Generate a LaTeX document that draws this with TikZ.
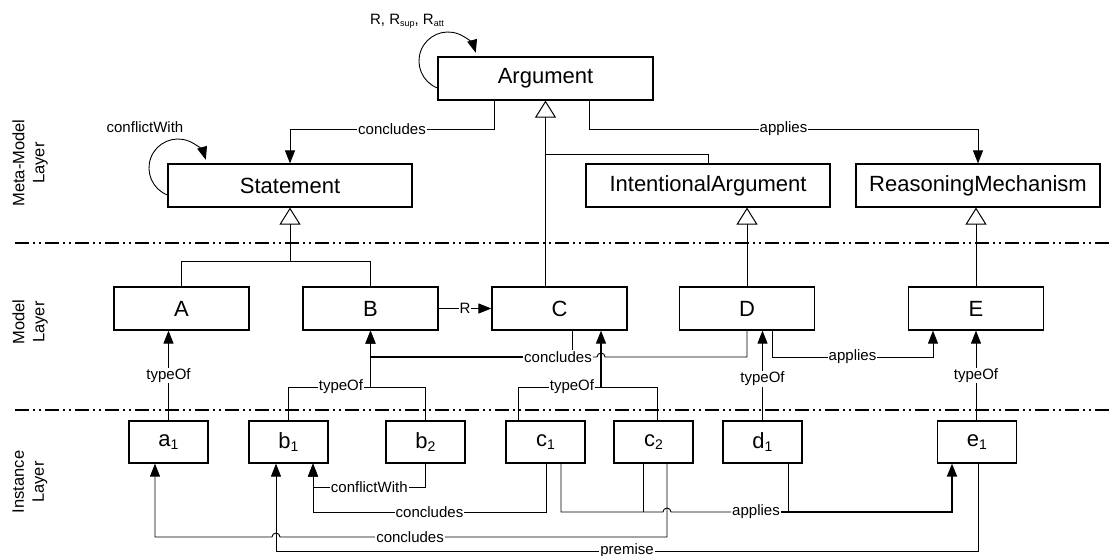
\documentclass[tikz,border=0pt]{standalone}
\usepackage{fontspec}
\setmainfont{Liberation Sans}
\usetikzlibrary{arrows.meta}
\newcommand\lowsub[1]{\raisebox{-0.3ex}{\fontsize{9}{9}\selectfont #1}}
\newcommand\boxsub[1]{\raisebox{-0.2ex}{\fontsize{14}{14}\selectfont #1}}

\begin{document}
\begin{tikzpicture}[x=1pt,y=-1pt,
  cls/.style={draw, line width=1.2pt, inner sep=0pt, font=\fontsize{22}{26}\selectfont},
  meta/.style={cls, minimum width=244pt, minimum height=43pt},
  mdl/.style={cls, minimum width=135pt, minimum height=43pt},
  inst/.style={cls, minimum width=79pt, minimum height=42pt},
  wire/.style={line width=0.9pt},
  rel/.style={wire, -{Triangle[length=13pt,width=10pt]}},
  gen/.style={wire, -{Triangle[open,length=17pt,width=21pt,line width=1pt]}},
  lbl/.style={fill=white, inner sep=1pt, font=\fontsize{15}{18}\selectfont},
  layer/.style={rotate=90, align=center, font=\fontsize{16.5}{20}\selectfont},
  sep/.style={line width=1.2pt, dash pattern=on 14pt off 4pt on 2pt off 4pt on 2pt off 4pt}
]
\useasboundingbox (0,0) rectangle (1109,556);

% layer separators and captions
\draw[sep] (15,243) -- (1109,243);
\draw[sep] (15,410) -- (1109,410);
\node[layer] (Lmeta)  at (30,163) {Meta-Model\\Layer};
\node[layer] (Lmodel) at (30,322) {Model\\Layer};
\node[layer] (Linst)  at (30,482) {Instance\\Layer};

% meta-model classes
\node[cls, minimum width=215pt, minimum height=43pt] (Arg) at (545.5,78.5) {Argument};
\node[meta] (Stmt) at (290,185.5) {Statement};
\node[meta] (IA)   at (708,185.5) {IntentionalArgument};
\node[meta] (RM)   at (978,185.5) {ReasoningMechanism};

% model classes
\node[mdl] (A) at (181.5,308.5) {A};
\node[mdl] (B) at (370.5,308.5) {B};
\node[mdl] (C) at (559.5,308.5) {C};
\node[mdl] (D) at (747,308.5)   {D};
\node[mdl] (E) at (976,308.5)   {E};

% instances
\node[inst] (a1) at (168.5,442) {a\boxsub{1}};
\node[inst] (b1) at (288.5,442) {b\boxsub{1}};
\node[inst] (b2) at (425.5,442) {b\boxsub{2}};
\node[inst] (c1) at (545.5,442) {c\boxsub{1}};
\node[inst] (c2) at (653.5,442) {c\boxsub{2}};
\node[inst] (d1) at (762.5,442) {d\boxsub{1}};
\node[inst] (e1) at (977,442)   {e\boxsub{1}};

% self relations
\draw[rel] ([yshift=-9.5pt]Arg.west) arc[start angle=248.6, end angle=16.5, radius=29pt];
\node[lbl, fill=none] (Rlab) at (407,21) {R, R\lowsub{sup}, R\lowsub{att}};
\draw[rel] ([yshift=-9.5pt]Stmt.west) arc[start angle=248.6, end angle=16.5, radius=29pt];
\node[lbl, fill=none] (cwlab) at (145,127) {conflictWith};

% meta-model associations
\draw[rel] (Arg.south -| 494,0) -- (494,129) -| node[lbl,pos=0.25]{concludes} (Stmt.north);
\draw[rel] (Arg.south -| 589,0) -- (589,129) -| node[lbl,pos=0.25]{applies} (RM.north);

% generalizations
\draw[gen] (C.north -| Arg.south) -- (Arg.south);
\draw[wire] (IA.north) |- (Arg.south |- 0,154);
\draw[wire] (A.north) |- (B.north |- 0,261) -- (B.north);
\draw[gen] (Stmt.south |- 0,261) -- (Stmt.south);
\draw[gen] (D.north) -- (D.north |- IA.south);
\draw[gen] (E.north) -- (E.north |- RM.south);

% model associations
\draw[rel] (B.east) -- node[lbl]{R} (C.west);
\node[lbl] (lc) at (558,357) {concludes};
\draw[wire] (C.south -| 572,0) -- (lc.north -| 572,0);
\draw[rel, line width=1.3pt] (lc.west) -| (B.south);
\draw[wire] (D.south) |- (605,357) arc[start angle=0, end angle=180, radius=4pt] -- (lc.east);
\draw[rel] (D.south -| 772,0) -- (772,357) -| node[lbl,pos=0.25]{applies} (E.south -| 933,0);

% typeOf links
\draw[rel] (a1.north) -- node[lbl]{typeOf} (A.south -| a1.north);
\coordinate (bj) at (B.south |- 0,387);
\draw[wire] (b1.north) |- node[lbl,pos=0.82]{typeOf} (bj);
\draw[wire] (b2.north) |- (bj);
\draw[rel, line width=1.2pt] (bj) -- (B.south);
\coordinate (cj) at (601,387);
\draw[wire] (c1.north -| 518,0) |- node[lbl,pos=0.825]{typeOf} (cj);
\draw[wire] (c2.north -| 657,0) |- (cj);
\draw[rel, line width=1.2pt] (cj) -- (C.south -| cj);
\draw[rel] (d1.north) -- node[lbl,pos=0.46]{typeOf} (D.south -| d1.north);
\draw[rel] (e1.north -| E.south) -- node[lbl]{typeOf} (E.south);

% instance links
\draw[rel] (b2.south) |- node[lbl,pos=0.75]{conflictWith} (313,487) -- (b1.south -| 313,0);
\draw[rel] (c1.south -| 546,0) |- node[lbl,pos=0.75]{concludes} (313,512) -- (b1.south -| 313,0);
\draw[rel] (c2.south -| 667,0) |- node[lbl,pos=0.832]{concludes} (280,537)
  arc[start angle=0, end angle=180, radius=4pt] -| (a1.south -| 155,0);
\node[lbl] (al) at (756,512) {applies};
\draw[wire] (c1.south -| 561,0) |- (663,512) arc[start angle=180, end angle=0, radius=4pt] -- (al.west);
\draw[wire] (c2.south -| 643,0) -- (643,0 |- al.west);
\draw[wire] (d1.south -| 788,0) -- (788,0 |- al.east);
\draw[rel, line width=1.6pt] (al.east) -| (e1.south -| 952,0);
\draw[rel] (e1.south -| 978,0) |- node[lbl,pos=0.75,inner ysep=0pt]{premise} (276,551) -- (b1.south -| 276,0);
\end{tikzpicture}
\end{document}
